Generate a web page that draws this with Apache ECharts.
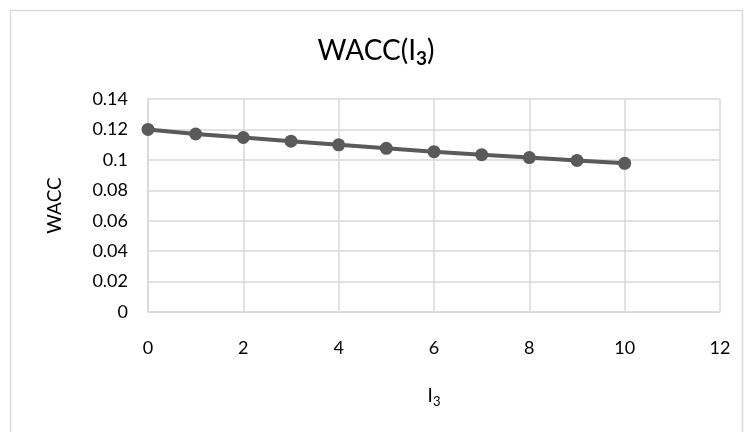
<!DOCTYPE html>
<html><head><meta charset="utf-8">
<script src="https://cdn.jsdelivr.net/npm/echarts@6/dist/echarts.min.js"></script>
<style>html,body{margin:0;padding:0;background:#fff}#c{width:752px;height:432px}</style>
</head><body><div id="c"></div>
<script>
const xValues = [0, 1, 2, 3, 4, 5, 6, 7, 8, 9, 10];
const waccValues = [0.12, 0.117, 0.1147, 0.1123, 0.1099, 0.1076, 0.1054, 0.1034, 0.1015, 0.0996, 0.0977];
const titleMain = 'WACC(I';
const titleSub = '3';
const yAxisName = 'WACC';

const font = 'Lato';
const chart = echarts.init(document.getElementById('c'));
chart.setOption({
  animation: false,
  backgroundColor: '#fff',
  graphic: [{
    type: 'rect', shape: {x: 10.5, y: 10.5, width: 732, height: 440},
    style: {fill: 'none', stroke: '#d9d9d9', lineWidth: 1.5}, silent: true
  }],
  title: {
    text: '{m|' + titleMain + '}{s|' + titleSub + '}{m|)}',
    left: 'center', top: 28,
    textStyle: {
      rich: {
        m: {fontFamily: font, fontSize: 28, color: '#000', fontWeight: 'normal'},
        s: {fontFamily: font, fontSize: 19, color: '#000', padding: [16, 0, 0, 0]}
      }
    }
  },
  grid: {left: 148, right: 32, top: 99, bottom: 120, containLabel: false},
  xAxis: {
    type: 'value', min: 0, max: 12, interval: 2,
    name: '{m|I}{s|3}', nameLocation: 'middle', nameGap: 72,
    nameTextStyle: {rich: {
      m: {fontFamily: font, fontSize: 19, color: '#000'},
      s: {fontFamily: font, fontSize: 13, color: '#000', padding: [11, 0, 0, 0]}
    }},
    axisLine: {show: true, lineStyle: {color: '#d9d9d9', width: 1.5}},
    axisTick: {show: false},
    splitLine: {show: true, lineStyle: {color: '#d9d9d9', width: 1.5}},
    axisLabel: {fontFamily: font, fontSize: 18, color: '#000', margin: 27}
  },
  yAxis: {
    type: 'value', min: 0, max: 0.14, interval: 0.02,
    name: yAxisName, nameLocation: 'middle', nameGap: 84,
    nameTextStyle: {fontFamily: font, fontSize: 19, color: '#000'},
    axisLine: {show: true, lineStyle: {color: '#d9d9d9', width: 1.5}},
    axisTick: {show: false},
    splitLine: {show: true, lineStyle: {color: '#d9d9d9', width: 1.5}},
    axisLabel: {fontFamily: font, fontSize: 18, color: '#000', margin: 20,
      formatter: v => String(+v.toFixed(2))}
  },
  series: [{
    type: 'line',
    data: xValues.map((x, i) => [x, waccValues[i]]),
    symbol: 'circle', symbolSize: 13,
    lineStyle: {color: '#5a5a5a', width: 4},
    itemStyle: {color: '#5a5a5a'}
  }]
});
</script></body></html>
